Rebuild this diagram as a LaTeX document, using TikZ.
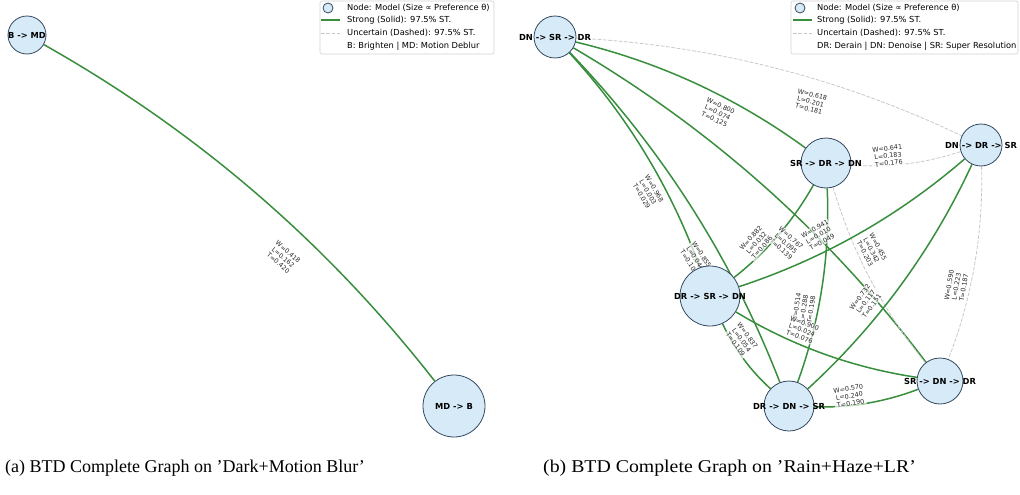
\documentclass[tikz,border=0pt]{standalone}
\usepackage{fontspec}
\setmainfont{Liberation Serif}
\newfontfamily\dvs{DejaVu Sans}
\usetikzlibrary{calc}
\pgfdeclarelayer{edgelayer}
\pgfdeclarelayer{labellayer}
\pgfsetlayers{edgelayer,labellayer,main}
\definecolor{strongc}{RGB}{56,142,60}
\definecolor{weakc}{RGB}{200,200,200}
\definecolor{nodefill}{RGB}{214,234,248}
\definecolor{nodedraw}{RGB}{52,73,94}
\definecolor{legborder}{RGB}{210,210,210}
\begin{document}
\begin{tikzpicture}[x=1pt,y=-1pt,
  model/.style={circle, draw=nodedraw, fill=nodefill, line width=0.8pt, inner sep=0pt},
  nodetxt/.style={font=\dvs\bfseries\fontsize{8.3}{10}\selectfont, inner sep=0pt},
  strong/.style={draw=strongc, line width=1.5pt, bend left=11.3, looseness=0.87},
  weak/.style={draw=weakc, line width=0.8pt, dash pattern=on 3.7pt off 1.6pt, bend left=11.3, looseness=0.87},
  lbl/.style={font=\dvs\fontsize{6.4}{7.4}\selectfont, align=center, fill=white, fill opacity=0.7, text opacity=1, text=black!85, inner sep=0.8pt, pos=0.6, sloped},
  legbox/.style={draw=legborder, fill=white, rounded corners=2pt, line width=0.6pt},
  legtxt/.style={font=\dvs\fontsize{8.3}{10}\selectfont, anchor=west, inner sep=0pt},
  legline/.style={draw=strongc, line width=1.5pt},
  legdash/.style={draw=weakc, line width=0.8pt, dash pattern=on 3.7pt off 1.6pt},
  caption/.style={font=\fontsize{18}{22}\selectfont, anchor=base west, inner sep=0pt}
]
\useasboundingbox (0,0) rectangle (1020,495);

% ---------- panel (a) nodes ----------
\node[model, minimum size=38] (a1) at (27,35) {};
\node[nodetxt] (a1t) at (a1) {B -> MD};
\node[model, minimum size=62] (a2) at (454,406) {};
\node[nodetxt] (a2t) at (a2) {MD -> B};

% ---------- panel (b) nodes ----------
\node[model, minimum size=42] (A) at (555,37) {};
\node[nodetxt] (At) at (A) {DN -> SR -> DR};
\node[model, minimum size=50] (B) at (826,163) {};
\node[nodetxt] (Bt) at (B) {SR -> DR -> DN};
\node[model, minimum size=42] (C) at (981,145) {};
\node[nodetxt] (Ct) at (C) {DN -> DR -> SR};
\node[model, minimum size=60] (D) at (710,296) {};
\node[nodetxt] (Dt) at (D) {DR -> SR -> DN};
\node[model, minimum size=46] (E) at (940,381) {};
\node[nodetxt] (Et) at (E) {SR -> DN -> DR};
\node[model, minimum size=50] (F) at (789,406) {};
\node[nodetxt] (Ft) at (F) {DR -> DN -> SR};

% ---------- edges ----------
\begin{pgfonlayer}{edgelayer}
\draw[strong] (a1) to (a2);
\draw[weak] (A) to (C);
\draw[strong] (A) to (B);
\draw[weak] (C) to (B);
\draw[strong] (A) to (D);
\draw[strong] (A) to (F);
\draw[strong] (A) to (E);
\draw[strong] (B) to (F);
\draw[strong] (B) to (D);
\draw[weak] (E) to (B);
\draw[strong] (C) to (D);
\draw[weak] (C) to (E);
\draw[strong] (C) to (F);
\draw[strong] (E) to (D);
\draw[strong] (F) to (D);
\draw[strong] (E) to (F);
\end{pgfonlayer}

% ---------- edge labels ----------
\begin{pgfonlayer}{labellayer}
\path (a1.center) -- node[lbl] (la) {W=0.418\\L=0.162\\T=0.420} (a2.center);
\path (A.center) -- node[lbl] (l1) {W=0.618\\L=0.201\\T=0.181} (C.center);
\path (A.center) -- node[lbl] (l2) {W=0.800\\L=0.074\\T=0.125} (B.center);
\path (C.center) -- node[lbl] (l3) {W=0.641\\L=0.183\\T=0.176} (B.center);
\path (A.center) -- node[lbl] (l4) {W=0.968\\L=0.003\\T=0.029} (D.center);
\path (A.center) -- node[lbl] (l5) {W=0.855\\L=0.044\\T=0.101} (F.center);
\path (A.center) -- node[lbl] (l6) {W=0.767\\L=0.095\\T=0.139} (E.center);
\path (B.center) -- node[lbl] (l7) {W=0.514\\L=0.288\\T=0.198} (F.center);
\path (B.center) -- node[lbl] (l8) {W=0.882\\L=0.032\\T=0.086} (D.center);
\path (E.center) -- node[lbl] (l9) {W=0.455\\L=0.342\\T=0.203} (B.center);
\path (C.center) -- node[lbl] (l10) {W=0.941\\L=0.010\\T=0.049} (D.center);
\path (C.center) -- node[lbl] (l11) {W=0.590\\L=0.223\\T=0.187} (E.center);
\path (C.center) -- node[lbl] (l12) {W=0.732\\L=0.117\\T=0.151} (F.center);
\path (E.center) -- node[lbl] (l13) {W=0.900\\L=0.024\\T=0.076} (D.center);
\path (F.center) -- node[lbl] (l14) {W=0.837\\L=0.054\\T=0.109} (D.center);
\path (E.center) -- node[lbl] (l15) {W=0.570\\L=0.240\\T=0.190} (F.center);
\end{pgfonlayer}

% ---------- legend (a) ----------
\draw[legbox] (320,1) rectangle (494,54);
\node[model, minimum size=10] (lga) at (328,8) {};
\coordinate (lgas1) at (321,20); \coordinate (lgas2) at (340,20);
\draw[legline] (lgas1) -- (lgas2);
\coordinate (lgad1) at (321,33); \coordinate (lgad2) at (340,33);
\draw[legdash] (lgad1) -- (lgad2);
\node[legtxt] (lgat1) at (347,8) {Node: Model (Size ∝ Preference θ)};
\node[legtxt] (lgat2) at (347,20) {Strong (Solid): 97.5\% ST.};
\node[legtxt] (lgat3) at (347,33) {Uncertain (Dashed): 97.5\% ST.};
\node[legtxt] (lgat4) at (347,46) {B: Brighten | MD: Motion Deblur};

% ---------- legend (b) ----------
\draw[legbox] (791,1) rectangle (1018,54);
\node[model, minimum size=10] (lgb) at (800,8) {};
\coordinate (lgbs1) at (793,20); \coordinate (lgbs2) at (812,20);
\draw[legline] (lgbs1) -- (lgbs2);
\coordinate (lgbd1) at (793,33); \coordinate (lgbd2) at (812,33);
\draw[legdash] (lgbd1) -- (lgbd2);
\node[legtxt] (lgbt1) at (817,8) {Node: Model (Size ∝ Preference θ)};
\node[legtxt] (lgbt2) at (817,20) {Strong (Solid): 97.5\% ST.};
\node[legtxt] (lgbt3) at (817,33) {Uncertain (Dashed): 97.5\% ST.};
\node[legtxt] (lgbt4) at (817,46) {DR: Derain | DN: Denoise | SR: Super Resolution};

% ---------- captions ----------
\node[caption] (capa) at (5,472) {(a) BTD Complete Graph on 'Dark+Motion Blur'};
\node[caption, xscale=1.1] (capb) at (543,472) {(b) BTD Complete Graph on 'Rain+Haze+LR'};
\end{tikzpicture}
\end{document}
